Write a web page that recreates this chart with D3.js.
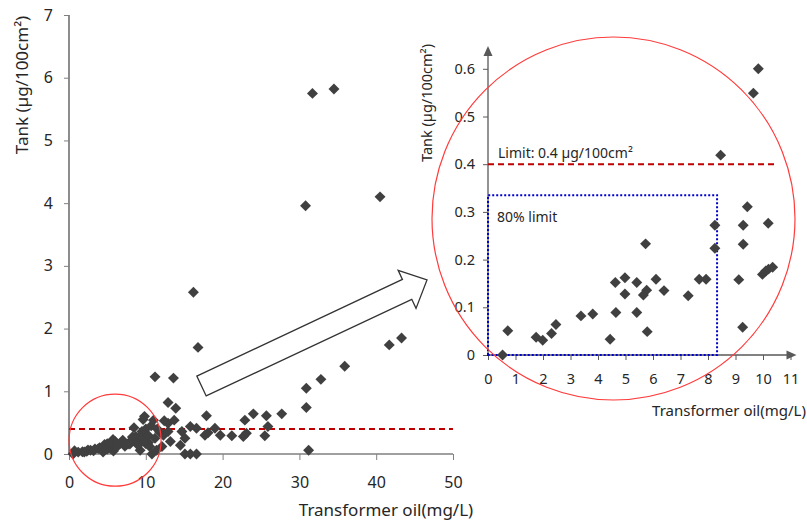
<!DOCTYPE html>
<html>
<head>
<meta charset="utf-8">
<script src="https://cdn.jsdelivr.net/npm/d3@7"></script>
<style>
  body { margin: 0; background: #fff; }
  svg { font-family: "Noto Sans", "Open Sans", sans-serif; }
</style>
</head>
<body>
<div id="chart"></div>
<script>
// frame
const FRAME_WIDTH = 807;
const FRAME_HEIGHT = 522;

// main chart data: transformer oil (mg/L) vs tank (ug/100cm2)
const mainX = [0.53, 0.72, 1.75, 1.99, 2.31, 2.47, 3.38, 3.81, 4.44, 4.63, 4.65, 4.98, 4.98, 5.41, 5.41,
  5.73, 5.77, 5.71, 5.79, 6.11, 6.4, 7.28, 7.68, 7.93, 8.25, 8.25, 8.46, 9.12, 9.26, 9.28, 9.28, 9.43,
  9.65, 9.83, 9.98, 10.1, 10.2, 10.35, 10.19,
  1.2, 2.8, 3.2, 4.0, 5.0, 5.5, 6.0, 6.2, 6.7, 7.0, 7.4, 8.0, 8.7, 8.9, 10.7, 11.5, 11.8, 10.0,
  11.0, 12.4, 12.9, 13.7, 12.9, 13.9, 11.2, 13.6, 16.2, 16.8, 17.9, 16.6, 17.7, 18.1, 14.7, 15.1, 14.5,
  12.9, 12.3, 13.2, 12.1, 9.5, 9.5, 10.3, 11.2, 10.5, 11.4, 9.0, 10.8, 15.1, 15.8, 16.6, 15.8, 19.0,
  19.7, 21.2, 22.7, 23.1, 22.9, 24.0, 25.7, 25.9, 25.5, 27.7, 30.9, 30.9, 32.8, 35.9, 31.2, 41.7, 43.3,
  30.8, 40.5, 31.7, 34.5];
const mainY = [0.0, 0.051, 0.037, 0.031, 0.045, 0.064, 0.082, 0.086, 0.033, 0.152, 0.089, 0.162, 0.128, 0.152, 0.089,
  0.233, 0.136, 0.124, 0.049, 0.159, 0.135, 0.124, 0.159, 0.159, 0.272, 0.224, 0.419, 0.158, 0.058, 0.272, 0.232, 0.311,
  0.549, 0.6, 0.169, 0.176, 0.18, 0.184, 0.276,
  0.03, 0.06, 0.05, 0.1, 0.08, 0.18, 0.2, 0.12, 0.17, 0.22, 0.15, 0.2, 0.28, 0.18, 0.45, 0.4, 0.35, 0.4,
  0.54, 0.53, 0.49, 0.54, 0.82, 0.73, 1.23, 1.21, 2.58, 1.70, 0.61, 0.41, 0.30, 0.34, 0.36, 0.25, 0.14,
  0.36, 0.30, 0.20, 0.12, 0.36, 0.25, 0.30, 0.25, 0.12, 0.06, 0.14, 0.0, 0.0, 0.0, 0.0, 0.44, 0.41,
  0.30, 0.29, 0.28, 0.33, 0.54, 0.64, 0.61, 0.44, 0.29, 0.64, 0.74, 1.05, 1.19, 1.40, 0.06, 1.74, 1.85,
  3.96, 4.10, 5.75, 5.82];

// inset data (zoom of 0-11 mg/L)
const insetX = [0.53, 0.72, 1.75, 1.99, 2.31, 2.47, 3.38, 3.81, 4.44, 4.63, 4.65, 4.98, 4.98, 5.41, 5.41,
  5.73, 5.77, 5.65, 5.79, 6.11, 6.4, 7.28, 7.68, 7.93, 8.25, 8.25, 8.46, 9.12, 9.26, 9.28, 9.28, 9.43,
  9.65, 9.83, 9.98, 10.1, 10.2, 10.35, 10.19];
const insetY = [0.0, 0.051, 0.037, 0.031, 0.045, 0.064, 0.082, 0.086, 0.033, 0.152, 0.089, 0.162, 0.128, 0.152, 0.089,
  0.233, 0.136, 0.126, 0.049, 0.159, 0.135, 0.124, 0.159, 0.159, 0.272, 0.224, 0.419, 0.158, 0.058, 0.272, 0.232, 0.311,
  0.549, 0.6, 0.169, 0.176, 0.18, 0.184, 0.276];

const mainXTicks = [0, 10, 20, 30, 40, 50];
const mainYTicks = [0, 1, 2, 3, 4, 5, 6, 7];
const insetXTicks = [0, 1, 2, 3, 4, 5, 6, 7, 8, 9, 10, 11];
const insetYTicks = [0, 0.1, 0.2, 0.3, 0.4, 0.5, 0.6];

const LIMIT = 0.4;
const LIMIT80 = [8.33, 0.335];   // blue box corner (x, y)

const FRAME = d3.select("#chart")
  .append("svg")
    .attr("width", FRAME_WIDTH)
    .attr("height", FRAME_HEIGHT);

const diamond = d3.symbol().type(d3.symbolSquare).size(60);

// ---------- main chart ----------
const X1 = d3.scaleLinear().domain([0, 50]).range([69, 453]);
const Y1 = d3.scaleLinear().domain([0, 7]).range([454, 15]);

const xAxis1 = FRAME.append("g")
  .attr("transform", `translate(0,${Y1(0)})`)
  .call(d3.axisBottom(X1).tickValues(mainXTicks).tickSize(6).tickPadding(17).tickFormat(d3.format("d")));
const yAxis1 = FRAME.append("g")
  .attr("transform", `translate(${X1(0)},0)`)
  .call(d3.axisLeft(Y1).tickValues(mainYTicks).tickSize(5).tickPadding(11).tickFormat(d3.format("d")));
[xAxis1, yAxis1].forEach(g => {
  g.select(".domain").attr("stroke", "#404040").attr("stroke-width", 1.2);
  g.selectAll(".tick line").attr("stroke", "#808080");
  g.selectAll(".tick text").attr("font-size", 16).attr("fill", "#262626")
    .attr("font-family", "Noto Sans");
});
xAxis1.select(".domain").attr("d", `M${X1(0)},0H${X1(50)}`);
yAxis1.select(".domain").attr("d", `M0,${Y1(7)}V${Y1(0)}`);

FRAME.append("text")
  .attr("x", 386).attr("y", 516)
  .attr("text-anchor", "middle").attr("font-size", 17).attr("fill", "#262626")
  .text("Transformer oil(mg/L)");
FRAME.append("text")
  .attr("transform", "translate(28,85) rotate(-90)")
  .attr("text-anchor", "middle").attr("font-size", 17).attr("fill", "#262626")
  .text("Tank (µg/100cm²)");

// limit line
FRAME.append("line")
  .attr("x1", X1(0)).attr("x2", X1(50))
  .attr("y1", Y1(LIMIT)).attr("y2", Y1(LIMIT))
  .attr("stroke", "#C00000").attr("stroke-width", 2).attr("stroke-dasharray", "6,4");

// points
FRAME.selectAll(".mpt")
  .data(d3.range(mainX.length))
  .enter()
  .append("path")
    .attr("class", "mpt")
    .attr("d", diamond)
    .attr("transform", (i) => `translate(${X1(mainX[i])},${Y1(mainY[i])}) rotate(45)`)
    .attr("fill", "#404040");

// small circle round the cluster
FRAME.append("circle")
  .attr("cx", X1(6)).attr("cy", Y1(0.22)).attr("r", 46)
  .attr("fill", "none").attr("stroke", "#FF3B3B").attr("stroke-width", 1.2);

// hollow arrow
const tail = [201.5, 386], tip = [427, 280];
const len = Math.hypot(tip[0] - tail[0], tip[1] - tail[1]);
const u = [(tip[0] - tail[0]) / len, (tip[1] - tail[1]) / len];
const n = [-u[1], u[0]];
const base = [tip[0] - 22 * u[0], tip[1] - 22 * u[1]];
const off = (p, k) => [p[0] + k * n[0], p[1] + k * n[1]];
const arrowPts = [off(tail, -11), off(base, -11), off(base, -21), tip, off(base, 21), off(base, 11), off(tail, 11)];
FRAME.append("path")
  .attr("d", d3.line()(arrowPts) + "Z")
  .attr("fill", "#fff").attr("stroke", "#333").attr("stroke-width", 1.3);

// ---------- inset ----------
const X2 = d3.scaleLinear().domain([0, 11]).range([488, 790.5]);
const Y2 = d3.scaleLinear().domain([0, 0.6]).range([355, 68.8]);

const xAxis2 = FRAME.append("g")
  .attr("transform", `translate(0,${Y2(0)})`)
  .call(d3.axisBottom(X2).tickValues(insetXTicks).tickSize(5).tickPadding(14).tickFormat(d3.format("d")));
const yAxis2 = FRAME.append("g")
  .attr("transform", `translate(${X2(0)},0)`)
  .call(d3.axisLeft(Y2).tickValues(insetYTicks).tickSize(5).tickPadding(8)
    .tickFormat((d) => d === 0 ? "0" : d3.format(".1f")(d)));
[xAxis2, yAxis2].forEach(g => {
  g.select(".domain").attr("stroke", "#595959").attr("stroke-width", 1.3);
  g.selectAll(".tick line").attr("stroke", "#595959");
  g.selectAll(".tick text").attr("font-size", 14.5).attr("fill", "#262626")
    .attr("font-family", "Noto Sans");
});
xAxis2.select(".domain").attr("d", `M${X2(0)},0H${X2(11) + 1}`);
yAxis2.select(".domain").attr("d", `M0,${Y2(0)}V50`);

// axis arrowheads
const ax = X2(11) + 6, ay = Y2(0);
FRAME.append("path")
  .attr("d", `M${ax},${ay}L${ax - 10},${ay - 4.5}L${ax - 10},${ay + 4.5}Z`)
  .attr("fill", "#595959");
const bx = X2(0), by = 46;
FRAME.append("path")
  .attr("d", `M${bx},${by}L${bx - 4.5},${by + 10}L${bx + 4.5},${by + 10}Z`)
  .attr("fill", "#595959");

FRAME.append("text")
  .attr("x", 729).attr("y", 416)
  .attr("text-anchor", "middle").attr("font-size", 15).attr("fill", "#262626")
  .text("Transformer oil(mg/L)");
FRAME.append("text")
  .attr("transform", "translate(432,103) rotate(-90)")
  .attr("text-anchor", "middle").attr("font-size", 14.5).attr("fill", "#262626")
  .text("Tank (µg/100cm²)");

// limit line and label
FRAME.append("line")
  .attr("x1", X2(0)).attr("x2", 778)
  .attr("y1", Y2(LIMIT)).attr("y2", Y2(LIMIT))
  .attr("stroke", "#C00000").attr("stroke-width", 2).attr("stroke-dasharray", "6,4");
FRAME.append("text")
  .attr("x", 498).attr("y", 158)
  .attr("font-size", 14).attr("fill", "#262626")
  .text("Limit: 0.4 µg/100cm²");

// 80% box
FRAME.append("path")
  .attr("d", `M${X2(0)},${Y2(0)}V${Y2(LIMIT80[1])}H${X2(LIMIT80[0])}V${Y2(0)}Z`)
  .attr("fill", "none").attr("stroke", "#0000CC").attr("stroke-width", 2).attr("stroke-dasharray", "2,2");
FRAME.append("text")
  .attr("x", 497).attr("y", 222)
  .attr("font-size", 14).attr("fill", "#262626")
  .text("80% limit");

FRAME.selectAll(".ipt")
  .data(d3.range(insetX.length))
  .enter()
  .append("path")
    .attr("class", "ipt")
    .attr("d", diamond)
    .attr("transform", (i) => `translate(${X2(insetX[i])},${Y2(insetY[i])}) rotate(45)`)
    .attr("fill", "#404040");

// big circle
FRAME.append("circle")
  .attr("cx", 613.5).attr("cy", 218.5).attr("r", 181.5)
  .attr("fill", "none").attr("stroke", "#FF3B3B").attr("stroke-width", 1.2);
</script>
</body>
</html>
